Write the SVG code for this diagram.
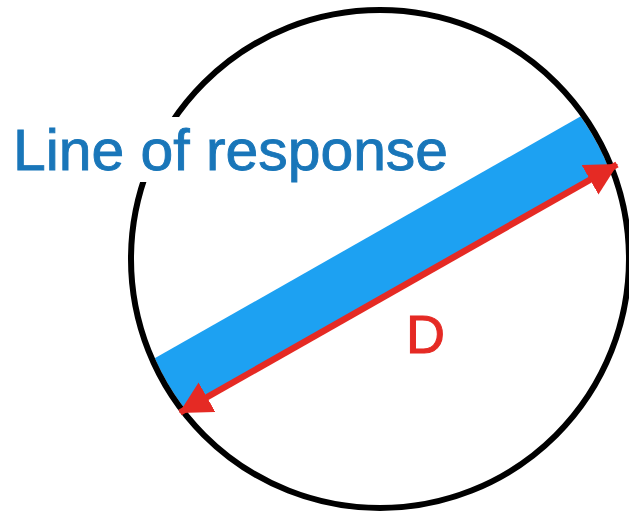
<svg xmlns="http://www.w3.org/2000/svg" width="629" height="514" viewBox="0 0 629 514">
<style>
.lbl{font-family:"Liberation Sans","Noto Sans",Arial,sans-serif}
</style>
<defs>
<clipPath id="inner"><circle cx="380" cy="259" r="246"/></clipPath>
<marker id="ah" viewBox="0 0 32 34" refX="31" refY="17" markerWidth="32" markerHeight="34" markerUnits="userSpaceOnUse" orient="auto-start-reverse">
<path d="M0,0 L32,17 L0,34 Z" fill="#e52a24"/>
</marker>
</defs>
<rect width="629" height="514" fill="#ffffff"/>
<g id="band">
<polygon points="100,389.4 660,71.3 660,138.3 100,456.4" fill="#1da1f2" clip-path="url(#inner)"/>
</g>
<g id="detector">
<circle cx="380" cy="259" r="249" fill="none" stroke="#000000" stroke-width="6"/>
</g>
<g id="connectors">
<line x1="180" y1="412.5" x2="617" y2="164.5" stroke="#e52a24" stroke-width="6.5" marker-start="url(#ah)" marker-end="url(#ah)"/>
</g>
<g id="labels">
<rect x="8" y="117" width="448" height="65" fill="#ffffff"/>
<text class="lbl" x="13" y="170" font-size="57" fill="#1976b9" stroke="#1976b9" stroke-width="0.9" textLength="435" lengthAdjust="spacingAndGlyphs">Line of response</text>
<text class="lbl" x="406" y="353" font-size="54" fill="#e52a24" stroke="#e52a24" stroke-width="1">D</text>
</g>
</svg>
